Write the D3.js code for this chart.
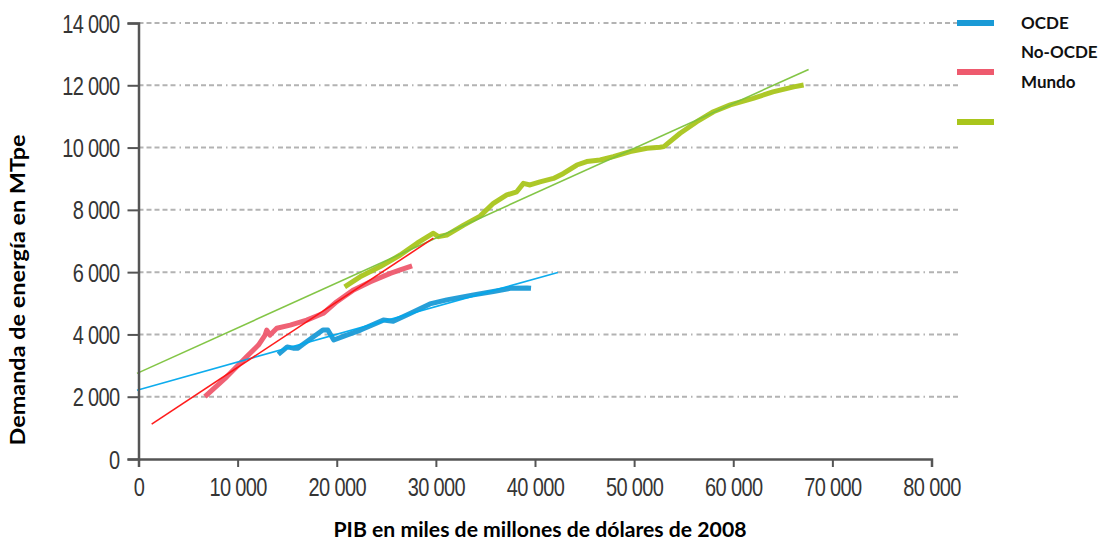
<!DOCTYPE html>
<html>
<head>
<meta charset="utf-8">
<script src="https://cdn.jsdelivr.net/npm/d3@7"></script>
<style>
  html, body { margin: 0; padding: 0; background: #fff; }
  svg { display: block; }
</style>
</head>
<body>
<svg id="chart" width="1104" height="541"></svg>
<script>
// ---- Data (PIB in miles de millones USD 2008, demanda in MTpe) ----
const seriesNames = ["OCDE", "No-OCDE", "Mundo"];

const ocdeGDP    = [14100, 15000, 15600, 16100, 16500, 18600, 19100, 19700, 21000, 22400, 24700, 25700, 27500, 29400, 31100, 33800, 35800, 37500, 39200, 39600];
const ocdeEnergy = [3360, 3600, 3560, 3560, 3660, 4140, 4140, 3820, 3980, 4140, 4460, 4420, 4690, 4980, 5110, 5270, 5380, 5480, 5490, 5480];

const noOcdeGDP    = [6700, 8900, 10900, 12100, 12770, 12940, 13270, 13950, 15300, 16970, 18650, 20000, 21700, 23400, 25400, 26400, 27600];
const noOcdeEnergy = [2000, 2640, 3280, 3660, 3980, 4140, 3980, 4200, 4300, 4460, 4680, 5050, 5430, 5690, 5960, 6070, 6200];

const mundoGDP    = [20800, 22350, 24400, 26400, 28100, 29750, 30250, 31100, 32800, 34460, 35800, 37150, 38160, 38830, 39500, 40500, 41860, 42870, 44220, 45220, 46570, 47900, 49600, 51300, 52600, 53000, 54640, 56330, 58000, 59700, 62000, 64000, 66100, 67100];
const mundoEnergy = [5530, 5850, 6180, 6550, 6930, 7250, 7140, 7190, 7510, 7800, 8210, 8480, 8580, 8850, 8800, 8900, 9010, 9170, 9440, 9550, 9600, 9710, 9870, 9980, 10010, 10030, 10460, 10830, 11150, 11370, 11580, 11790, 11950, 12010];

// Trend lines (start / end points)
const ocdeTrendGDP     = [-150, 42300];
const ocdeTrendEnergy  = [2210, 5990];
const noOcdeTrendGDP   = [1330, 29750];
const noOcdeTrendEnergy= [1120, 7090];
const mundoTrendGDP    = [-150, 67600];
const mundoTrendEnergy = [2750, 12510];

const xTicks = [0, 10000, 20000, 30000, 40000, 50000, 60000, 70000, 80000];
const yTicks = [0, 2000, 4000, 6000, 8000, 10000, 12000, 14000];

const colors = { ocde: "#1a9ad6", noOcde: "#ee5a6e", mundo: "#a9c51c" };
const trendColors = { ocde: "#00a8ec", noOcde: "#ff1010", mundo: "#7cc23c" };

// ---- Layout ----
const svg = d3.select("#chart");
const x = d3.scaleLinear().domain([0, 80000]).range([138.5, 931.5]);
const y = d3.scaleLinear().domain([0, 14000]).range([459, 23]);

const fmt = v => v === 0 ? "0" : d3.format(",")(v).replace(/,/g, " ");

// Gridlines
const grid = svg.append("g");
grid.selectAll("line").data(yTicks.filter(d => d > 0)).join("line")
  .attr("x1", x(0)).attr("x2", 958)
  .attr("y1", d => y(d)).attr("y2", d => y(d))
  .attr("stroke", "#b3b3b3").attr("stroke-width", 2)
  .attr("stroke-dasharray", "5,3,5,3,5,3,5,3,5,4,1.5,4");

// Data lines
const line = d3.line().x(d => x(d[0])).y(d => y(d[1])).curve(d3.curveLinear);
function drawSeries(gdp, en, color, w) {
  svg.append("path").datum(d3.zip(gdp, en))
    .attr("d", line).attr("fill", "none")
    .attr("stroke", color).attr("stroke-width", w)
    .attr("stroke-linejoin", "round").attr("stroke-linecap", "butt")
    .attr("opacity", 0.95);
}
drawSeries(noOcdeGDP, noOcdeEnergy, colors.noOcde, 5);
drawSeries(mundoGDP, mundoEnergy, colors.mundo, 5);
drawSeries(ocdeGDP, ocdeEnergy, colors.ocde, 5);

// Trend lines
drawSeries(ocdeTrendGDP, ocdeTrendEnergy, trendColors.ocde, 1.6);
drawSeries(mundoTrendGDP, mundoTrendEnergy, trendColors.mundo, 1.6);
drawSeries(noOcdeTrendGDP, noOcdeTrendEnergy, trendColors.noOcde, 1.6);

// Axes
const tickFont = "'Liberation Sans', Arial, sans-serif";
const squeeze = 0.8;
const yAxis = svg.append("g").attr("transform", `translate(${x(0)},0)`)
  .call(d3.axisLeft(y).tickValues(yTicks).tickFormat(fmt).tickSize(11).tickPadding(8));
const xAxis = svg.append("g").attr("transform", `translate(0,${y(0)})`)
  .call(d3.axisBottom(x).tickValues(xTicks).tickFormat(fmt).tickSize(8).tickPadding(11));
[yAxis, xAxis].forEach(a => {
  a.select(".domain").attr("stroke", "#555").attr("stroke-width", 2.5);
  a.selectAll(".tick line").attr("stroke", "#555").attr("stroke-width", 2);
  a.selectAll(".tick text").attr("fill", "#353535")
    .style("font-family", tickFont).style("font-size", "25px").style("letter-spacing", "-0.8px")
    .each(function() {
      const t = d3.select(this);
      const tx = +t.attr("x") || 0;
      t.attr("x", tx / squeeze).attr("transform", `scale(${squeeze},1)`);
    });
});
yAxis.selectAll(".tick text").attr("dy", "0.36em");

// Axis titles
const titleFont = "Lato, 'Open Sans', sans-serif";
svg.append("text")
  .attr("transform", "translate(25,290) rotate(-90)")
  .attr("text-anchor", "middle")
  .attr("textLength", 311).attr("lengthAdjust", "spacingAndGlyphs")
  .style("font-family", titleFont).style("font-weight", "bold").style("font-size", "20px")
  .attr("fill", "#000")
  .text("Demanda de energía en MTpe");
svg.append("text")
  .attr("x", 540).attr("y", 537)
  .attr("text-anchor", "middle")
  .attr("textLength", 413).attr("lengthAdjust", "spacingAndGlyphs")
  .style("font-family", titleFont).style("font-weight", "bold").style("font-size", "20px")
  .attr("fill", "#000")
  .text("PIB en miles de millones de dólares de 2008");

// Legend (swatches and labels as in reference)
const legendColors = [colors.ocde, colors.noOcde, colors.mundo];
const swatchY = [23, 72, 122];
const labelY = [23, 52, 82];
const legend = svg.append("g");
legend.selectAll("line").data(legendColors).join("line")
  .attr("x1", 957).attr("x2", 994)
  .attr("y1", (d, i) => swatchY[i]).attr("y2", (d, i) => swatchY[i])
  .attr("stroke", d => d).attr("stroke-width", 6);
legend.selectAll("text").data(seriesNames).join("text")
  .attr("x", 1021).attr("y", (d, i) => labelY[i]).attr("dy", "0.35em")
  .style("font-family", titleFont).style("font-weight", "bold").style("font-size", "17px")
  .attr("fill", "#111")
  .text(d => d);
</script>
</body>
</html>
